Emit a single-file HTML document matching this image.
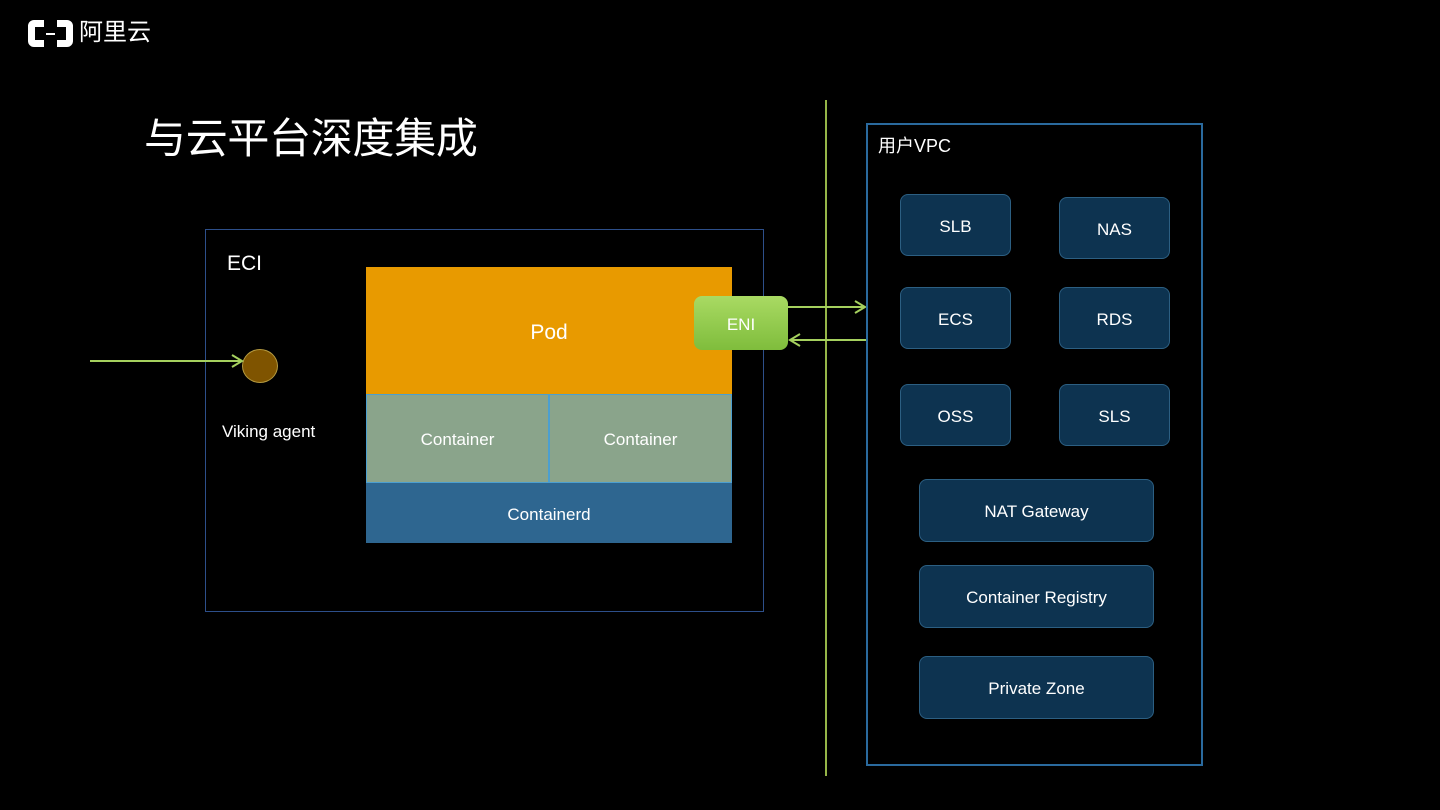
<!DOCTYPE html>
<html><head><meta charset="utf-8"><style>
body{margin:0;width:1440px;height:810px;background:#000;position:relative;overflow:hidden;font-family:"Liberation Sans","Noto Sans CJK SC",sans-serif;color:#fff}
.a{position:absolute;box-sizing:border-box}
.c{display:flex;align-items:center;justify-content:center;padding-top:3px}
.s{background:#0d3350;border:1px solid #2c5f82;border-radius:8px;font-size:17px;color:#fff}
</style></head><body>
<div class="a" style="left:28px;top:20px;width:45px;height:27px;border:7px solid #fff;border-radius:6px"></div>
<div class="a" style="left:44px;top:16px;width:13px;height:35px;background:#000"></div>
<div class="a" style="left:46px;top:33px;width:9px;height:2px;background:#fff"></div>
<div class="a" style="left:79px;top:17px;font-size:24px;line-height:32px">阿里云</div>
<div class="a" style="left:144px;top:112px;font-size:42px;line-height:54px;letter-spacing:-0.3px">与云平台深度集成</div>

<div class="a" style="left:205px;top:229px;width:559px;height:383px;border:1px solid #2d4f8a"></div>
<div class="a" style="left:227px;top:252px;font-size:21px">ECI</div>
<div class="a c" style="left:366px;top:267px;width:366px;height:128px;background:#e89a00;font-size:21px">Pod</div>
<div class="a c" style="left:366px;top:394px;width:183px;height:89px;background:#8aa48b;border:1px solid #4c9fd0;font-size:17px">Container</div>
<div class="a c" style="left:549px;top:394px;width:183px;height:89px;background:#8aa48b;border:1px solid #4c9fd0;font-size:17px">Container</div>
<div class="a c" style="left:366px;top:483px;width:366px;height:60px;background:#2e6690;font-size:17px">Containerd</div>
<div class="a c" style="left:694px;top:296px;width:94px;height:54px;border-radius:8px;background:linear-gradient(#a9da63,#7fbd3c);font-size:17px">ENI</div>
<div class="a" style="left:242px;top:349px;width:36px;height:34px;border-radius:50%;background:#7f5400;border:1px solid #b59a40"></div>
<div class="a" style="left:222px;top:422px;font-size:17px">Viking agent</div>

<div class="a" style="left:825px;top:100px;width:2px;height:676px;background:#95b548"></div>
<svg class="a" style="left:0;top:0" width="1440" height="810">
<g stroke="#a5d05e" stroke-width="2" fill="none">
<line x1="90" y1="361" x2="242" y2="361"/><polyline points="232,355 242,361 232,367"/>
<line x1="788" y1="307" x2="865" y2="307"/><polyline points="855,301 865,307 855,313"/>
<line x1="866" y1="340" x2="790" y2="340"/><polyline points="800,334 790,340 800,346"/>
</g></svg>

<div class="a" style="left:866px;top:123px;width:337px;height:643px;border:2px solid #2a6a9e"></div>
<div class="a" style="left:878px;top:132px;font-size:18px">用户VPC</div>
<div class="a c s" style="left:900px;top:194px;width:111px;height:62px">SLB</div>
<div class="a c s" style="left:1059px;top:197px;width:111px;height:62px">NAS</div>
<div class="a c s" style="left:900px;top:287px;width:111px;height:62px">ECS</div>
<div class="a c s" style="left:1059px;top:287px;width:111px;height:62px">RDS</div>
<div class="a c s" style="left:900px;top:384px;width:111px;height:62px">OSS</div>
<div class="a c s" style="left:1059px;top:384px;width:111px;height:62px">SLS</div>
<div class="a c s" style="left:919px;top:479px;width:235px;height:63px">NAT Gateway</div>
<div class="a c s" style="left:919px;top:565px;width:235px;height:63px">Container Registry</div>
<div class="a c s" style="left:919px;top:656px;width:235px;height:63px">Private Zone</div>
</body></html>
